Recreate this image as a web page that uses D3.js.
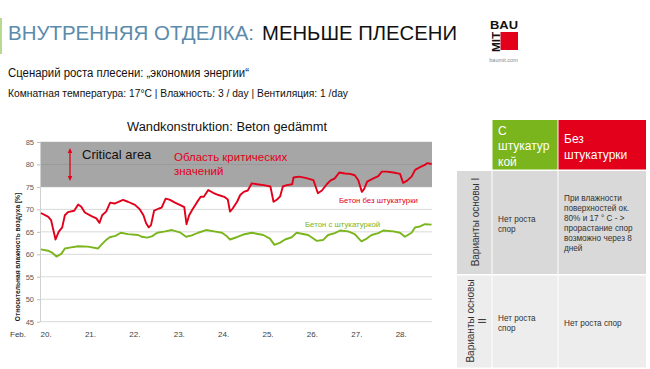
<!DOCTYPE html>
<html><head><meta charset="utf-8">
<script src="https://cdn.jsdelivr.net/npm/d3@7"></script>
<style>html,body{margin:0;padding:0;background:#fff;}svg{display:block;font-family:"Liberation Sans",Arial,sans-serif;}</style>
</head><body>
<script>
// ---- data ----
const redDays = [20.02,20.18,20.25,20.35,20.42,20.50,20.56,20.63,20.77,20.86,20.93,21.01,21.16,21.27,21.34,21.40,21.49,21.58,21.68,21.87,21.98,22.14,22.25,22.33,22.39,22.45,22.50,22.57,22.68,22.74,22.83,22.93,23.04,23.15,23.25,23.30,23.36,23.43,23.53,23.62,23.69,23.79,23.90,24.02,24.15,24.23,24.28,24.34,24.44,24.51,24.59,24.68,24.77,24.89,25.04,25.19,25.26,25.34,25.41,25.47,25.56,25.68,25.71,25.83,25.98,26.16,26.26,26.35,26.46,26.54,26.64,26.74,26.87,26.98,27.09,27.17,27.25,27.30,27.37,27.51,27.62,27.70,27.81,27.96,28.11,28.18,28.27,28.37,28.45,28.56,28.67,28.72,28.82];
const redValues = [69.2,68.4,67.6,63.3,65.0,66.0,68.7,69.4,69.7,71.1,70.6,69.3,68.5,68.0,67.0,68.7,69.5,71.5,71.3,72.1,71.7,71.0,70.0,68.7,66.9,66.0,66.5,69.7,70.2,70.4,72.4,72.1,71.5,71.0,70.5,66.7,68.7,69.9,71.5,72.8,72.8,74.3,73.7,73.2,72.8,72.2,69.5,70.2,71.7,73.2,73.9,74.2,75.8,75.6,75.4,75.1,71.7,72.2,72.9,75.1,75.4,75.6,77.1,77.3,77.0,76.5,73.6,74.2,75.6,76.4,76.9,78.2,78.0,77.9,77.6,76.5,73.9,74.5,76.2,76.9,77.4,78.4,78.4,78.2,77.9,75.9,76.4,77.3,78.8,79.4,79.9,80.3,80.1];
const greenDays = [20.02,20.18,20.27,20.37,20.48,20.56,20.67,20.86,21.08,21.31,21.38,21.49,21.57,21.70,21.82,21.98,22.21,22.30,22.41,22.52,22.64,22.82,22.97,23.15,23.29,23.42,23.56,23.74,23.92,24.10,24.21,24.28,24.43,24.58,24.77,25.03,25.18,25.28,25.41,25.52,25.67,25.78,26.04,26.23,26.38,26.49,26.64,26.76,26.94,27.09,27.24,27.36,27.47,27.62,27.73,27.96,28.11,28.22,28.37,28.45,28.56,28.67,28.82];
const greenValues = [61.1,60.8,60.4,59.5,60.1,61.3,61.5,61.8,61.7,61.3,62.1,63.2,63.8,64.1,64.8,64.5,64.3,63.9,63.7,64.0,64.8,65.1,65.4,64.9,63.9,64.2,64.8,65.4,65.1,64.8,64.0,63.3,63.8,64.4,64.8,64.3,63.5,62.1,62.6,63.3,63.8,64.8,64.3,63.0,63.2,64.3,64.7,65.3,65.1,64.5,62.9,63.5,64.3,64.7,65.3,65.1,64.8,63.9,64.8,66.0,66.2,66.7,66.6];
const yTicks = [45,50,55,60,65,70,75,80,85];
const xTicks = [20,21,22,23,24,25,26,27,28];
const xTickLabels = ["20.","21.","22.","23.","24.","25.","26.","27.","28."];
const criticalRange = [75,85];
const seriesNames = ["Бетон без штукатурки","Бетон с штукатуркой"];
const tableHeaders = [["С","штукатур","кой"],["Без","штукатурки"]];
const rowLabels = [["Варианты основы I"],["Варианты основы","II"]];
const row1Cells = [["Нет роста","спор"],["При влажности","поверхностей ок.","80% и 17 ° С - >","прорастание спор","возможно через 8","дней"]];
const row2Cells = [["Нет роста","спор"],["Нет роста спор"]];

const RED="#e2001a", GREEN="#7ab51d";
const svg = d3.select("body").append("svg").attr("width",650).attr("height",369);
svg.append("rect").attr("width",650).attr("height",369).attr("fill","#fff");

// ---- header ----
svg.append("rect").attr("x",0).attr("y",18).attr("width",2).attr("height",36).attr("fill","#b9d890");
svg.append("text").attr("x",8).attr("y",39.5).attr("font-size",21).attr("fill","#5b8bab")
  .attr("textLength",246).attr("lengthAdjust","spacingAndGlyphs").text("ВНУТРЕННЯЯ ОТДЕЛКА:");
svg.append("text").attr("x",262).attr("y",39.5).attr("font-size",21).attr("fill","#111")
  .attr("textLength",195).attr("lengthAdjust","spacingAndGlyphs").text("МЕНЬШЕ ПЛЕСЕНИ");
svg.append("text").attr("x",8).attr("y",77).attr("font-size",12.5).attr("fill","#111")
  .attr("textLength",241).attr("lengthAdjust","spacingAndGlyphs").text("Сценарий роста плесени: „экономия энергии“");
svg.append("text").attr("x",8).attr("y",96.5).attr("font-size",11.5).attr("fill","#111")
  .attr("textLength",340).attr("lengthAdjust","spacingAndGlyphs").text("Комнатная температура: 17°C | Влажность: 3 / day | Вентиляция: 1 /day");

// logo
const logo = svg.append("g");
logo.append("text").attr("x",490).attr("y",29).attr("font-size",11).attr("font-weight","bold").attr("fill","#111").attr("textLength",28).attr("lengthAdjust","spacingAndGlyphs").text("BAU");
logo.append("text").attr("transform","translate(499.5,52) rotate(-90)").attr("font-size",11).attr("font-weight","bold").attr("fill","#111").attr("textLength",20).attr("lengthAdjust","spacingAndGlyphs").text("MIT");
logo.append("rect").attr("x",500.5).attr("y",32).attr("width",17.5).attr("height",18).attr("fill",RED);
logo.append("text").attr("x",503.5).attr("y",61.5).attr("text-anchor","middle").attr("font-size",5.5).attr("fill","#888").text("baumit.com");

// ---- chart ----
const x = d3.scaleLinear().domain([20,28.83]).range([40,432]);
const y = d3.scaleLinear().domain([45,85]).range([321.7,142]);

svg.append("text").attr("x",227).attr("y",131).attr("text-anchor","middle").attr("font-size",12.3).attr("fill","#111")
  .attr("textLength",200).attr("lengthAdjust","spacingAndGlyphs").text("Wandkonstruktion: Beton gedämmt");

svg.append("g").selectAll("line").data(yTicks).join("line")
  .attr("x1",x(20)).attr("x2",x(28.83)).attr("y1",d=>y(d)).attr("y2",d=>y(d))
  .attr("stroke","#d9d9d9").attr("stroke-width",1);
svg.append("rect").attr("x",x(20)).attr("width",x(28.83)-x(20))
  .attr("y",y(criticalRange[1])).attr("height",y(criticalRange[0])-y(criticalRange[1])).attr("fill","#a6a6a6");
svg.append("line").attr("x1",x(20)).attr("x2",x(28.83)).attr("y1",y(80)).attr("y2",y(80)).attr("stroke","#9a9a9a");

const yAxis = svg.append("g").attr("transform",`translate(${x(20)},0)`)
  .call(d3.axisLeft(y).tickValues(yTicks).tickSize(3).tickPadding(3).tickSizeOuter(0));
yAxis.select(".domain").attr("stroke","#d0d0d0");
yAxis.selectAll(".tick line").attr("stroke","#bfbfbf");
yAxis.selectAll(".tick text").attr("font-size",7.5).attr("fill","#595959").attr("font-family","Liberation Sans, Arial, sans-serif");

const xAxis = svg.append("g").attr("transform","translate(0,331.3)")
  .call(d3.axisBottom(x).tickValues(xTicks).tickSize(0).tickPadding(0).tickFormat((d,i)=>xTickLabels[i]));
xAxis.select(".domain").remove();
xAxis.selectAll(".tick text").attr("text-anchor","start").attr("font-size",8).attr("fill","#404040").attr("font-family","Liberation Sans, Arial, sans-serif");
svg.append("text").attr("x",10).attr("y",337).attr("font-size",8).attr("fill","#404040").text("Feb.");

svg.append("text").attr("transform","translate(20,257) rotate(-90)").attr("text-anchor","middle")
  .attr("font-size",6.6).attr("font-weight","bold").attr("fill","#222").text("Относительная влажность воздуха [%]");

const line = d3.line().x(d=>x(d[0])).y(d=>y(d[1]));
svg.append("path").attr("d",line(d3.zip(greenDays,greenValues))).attr("fill","none").attr("stroke",GREEN).attr("stroke-width",1.9).attr("stroke-linejoin","round");
svg.append("path").attr("d",line(d3.zip(redDays,redValues))).attr("fill","none").attr("stroke",RED).attr("stroke-width",1.9).attr("stroke-linejoin","round");

// critical area annotation
const ax = 70, ay1 = 148, ay2 = 181;
svg.append("line").attr("x1",ax).attr("x2",ax).attr("y1",ay1+3).attr("y2",ay2-3).attr("stroke",RED).attr("stroke-width",1.3);
svg.append("path").attr("d",`M${ax},${ay1} L${ax-2.3},${ay1+5} L${ax+2.3},${ay1+5} Z`).attr("fill",RED);
svg.append("path").attr("d",`M${ax},${ay2} L${ax-2.3},${ay2-5} L${ax+2.3},${ay2-5} Z`).attr("fill",RED);
svg.append("text").attr("x",82).attr("y",159).attr("font-size",13).attr("fill","#111").text("Critical area");
svg.append("text").attr("x",174).attr("y",160.5).attr("font-size",11.5).attr("fill",RED).text("Область критических");
svg.append("text").attr("x",174).attr("y",175).attr("font-size",11.5).attr("fill",RED).text("значений");
svg.append("text").attr("x",339).attr("y",202.5).attr("font-size",7.8).attr("fill",RED).text(seriesNames[0]);
svg.append("text").attr("x",305).attr("y",226.5).attr("font-size",7.8).attr("fill",GREEN).text(seriesNames[1]);

// ---- table ----
const cols = [{x:457,w:34.5},{x:492.5,w:65},{x:558.5,w:87.5}];
const rows = [{y:171,h:103,fill:"#d9d9d9"},{y:275.5,h:92,fill:"#ededed"}];
svg.append("rect").attr("x",cols[1].x).attr("y",120).attr("width",cols[1].w).attr("height",49.5).attr("fill",GREEN);
svg.append("rect").attr("x",cols[2].x).attr("y",120).attr("width",cols[2].w).attr("height",49.5).attr("fill",RED);
tableHeaders[0].forEach((s,i)=>svg.append("text").attr("x",498).attr("y",134.5+i*15.7).attr("font-size",12).attr("fill","#fff").text(s));
tableHeaders[1].forEach((s,i)=>svg.append("text").attr("x",564).attr("y",142.5+i*16).attr("font-size",12).attr("fill","#fff").text(s));
rows.forEach(r=>cols.forEach(c=>svg.append("rect").attr("x",c.x).attr("y",r.y).attr("width",c.w).attr("height",r.h).attr("fill",r.fill)));
svg.append("text").attr("transform","translate(478.5,222) rotate(-90)").attr("text-anchor","middle").attr("font-size",10).attr("fill","#333").text(rowLabels[0][0]);
svg.append("text").attr("transform","translate(473.5,321) rotate(-90)").attr("text-anchor","middle").attr("font-size",10).attr("fill","#333").text(rowLabels[1][0]);
svg.append("text").attr("transform","translate(486,321) rotate(-90)").attr("text-anchor","middle").attr("font-size",10).attr("fill","#333").text(rowLabels[1][1]);
const cellFont = 8.2, cellFill="#333";
row1Cells[0].forEach((s,i)=>svg.append("text").attr("x",498).attr("y",221.5+i*10.1).attr("font-size",cellFont).attr("fill",cellFill).text(s));
row1Cells[1].forEach((s,i)=>svg.append("text").attr("x",564).attr("y",200.8+i*10.1).attr("font-size",cellFont).attr("fill",cellFill).text(s));
row2Cells[0].forEach((s,i)=>svg.append("text").attr("x",498).attr("y",320.5+i*10.1).attr("font-size",cellFont).attr("fill",cellFill).text(s));
row2Cells[1].forEach((s,i)=>svg.append("text").attr("x",564).attr("y",325.5+i*10.1).attr("font-size",cellFont).attr("fill",cellFill).text(s));
</script>
</body></html>
